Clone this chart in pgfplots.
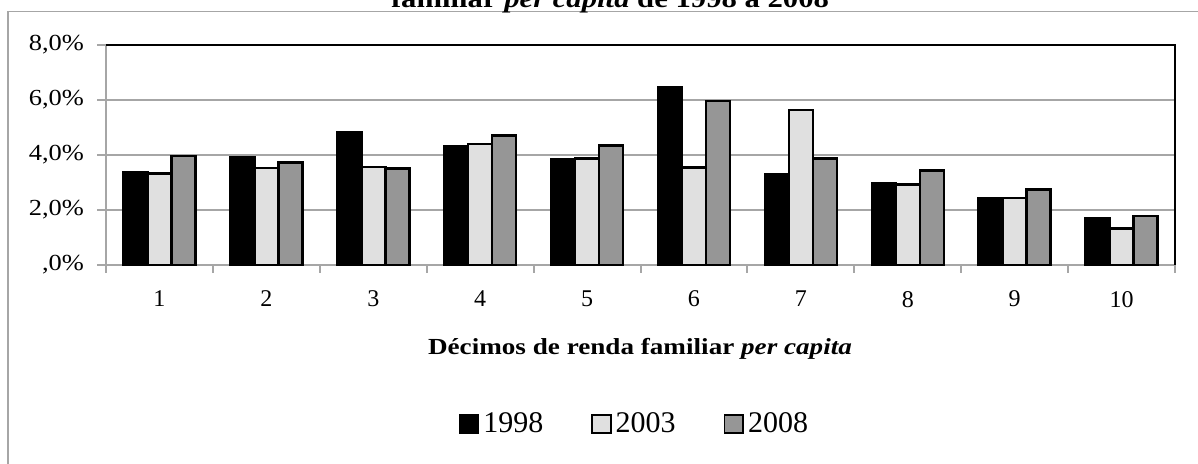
\documentclass[border=0pt]{standalone}
\usepackage{fontspec}
\setmainfont{Liberation Serif}
\newfontfamily\tickfont[FakeStretch=1.15]{Liberation Serif}
\newfontfamily\labfont[FakeStretch=1.18]{Liberation Serif}
\usepackage{pgfplots}
\pgfplotsset{compat=1.18}
\definecolor{gridgray}{RGB}{166,166,166}
\definecolor{lightbar}{RGB}{224,224,224}
\definecolor{darkbar}{RGB}{150,150,150}
\pgfplotsset{sqlegend/.style={/pgfplots/legend image code/.code={\draw[##1,line width=0.8pt] (0pt,-4.6pt) rectangle (9.4pt,4.6pt);}}}
\begin{document}
\begin{tikzpicture}
\path[use as bounding box] (0,0) rectangle (599pt,232pt);
% outer frame
\draw[gridgray, line width=0.8pt] (4pt,-10pt) rectangle (610pt,226.25pt);
% title (cut at top, as in the reference)
\node[anchor=base, font={\labfont\fontsize{13}{15}\selectfont\bfseries}] at (305pt,228pt) {familiar \textit{per capita} de 1998 a 2008};
\begin{axis}[
  at={(53pt,99.5pt)}, anchor=south west,
  scale only axis, width=534.5pt, height=110pt,
  ybar=0pt, bar width=12pt,
  xmin=0.5, xmax=10.5, ymin=0, ymax=8,
  xtick={1,...,10},
  xticklabels={1,2,3,4,5,6,7,8,9,10},
  minor xtick={0.5,1.5,...,10.5},
  ytick={0,2,4,6,8},
  yticklabels={{,0\%},{2,0\%},{4,0\%},{6,0\%},{8,0\%}},
  ymajorgrids, grid style={gridgray, line width=1pt},
  axis line style={gridgray, line width=1pt},
  tick align=outside, xtick pos=bottom, ytick pos=left,
  major tick length=4.5pt, minor tick length=4pt,
  x tick style={draw=none},
  minor x tick style={draw=gridgray, line width=1pt},
  y tick style={gridgray, line width=1pt},
  xticklabel style={font={\fontsize{12}{14}\selectfont}, yshift=-5pt},
  yticklabel style={font={\tickfont\fontsize{11.5}{13}\selectfont}, xshift=-3pt},
  legend columns=-1,
  legend style={draw=none, fill=none, at={(axis description cs:0.4953,-0.7227)}, anchor=center,
    font={\fontsize{15}{17}\selectfont}, /tikz/every even column/.append style={column sep=22pt},
    nodes={inner sep=2pt}},
  clip=false,
]
\addplot[fill=black, draw=black, line width=1.25pt, sqlegend] coordinates {(1,3.36) (2,3.92) (3,4.81) (4,4.33) (5,3.85) (6,6.46) (7,3.30) (8,2.96) (9,2.41) (10,1.70)};
\addplot[fill=lightbar, draw=black, line width=1.25pt, sqlegend] coordinates {(1,3.33) (2,3.52) (3,3.56) (4,4.40) (5,3.87) (6,3.54) (7,5.64) (8,2.92) (9,2.44) (10,1.32)};
\addplot[fill=darkbar, draw=black, line width=1.25pt, sqlegend] coordinates {(1,3.96) (2,3.72) (3,3.51) (4,4.71) (5,4.34) (6,5.96) (7,3.88) (8,3.43) (9,2.74) (10,1.79)};
\legend{1998,2003,2008}
\draw[black, line width=1.4pt] (rel axis cs:0,1) -- (rel axis cs:1,1) -- (rel axis cs:1,0);
\end{axis}
\node[anchor=base, font={\labfont\fontsize{11.5}{13}\selectfont\bfseries}] at (320pt,54.5pt) {Décimos de renda familiar \textit{per capita}};
\end{tikzpicture}
\end{document}
